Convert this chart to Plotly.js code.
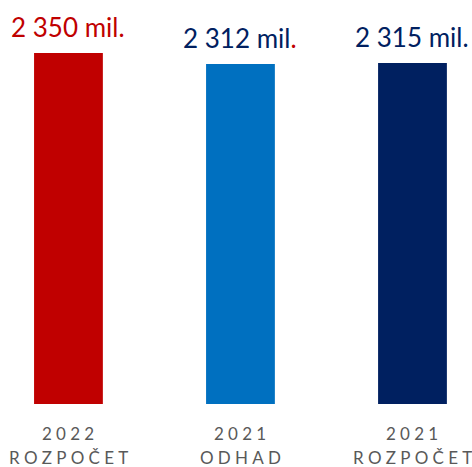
<!DOCTYPE html>
<html>
<head>
<meta charset="utf-8">
<script src="https://cdn.plot.ly/plotly-3.0.1.min.js"></script>
<style>html,body{margin:0;padding:0;background:#fff;}</style>
</head>
<body>
<div id="chart" style="width:472px;height:467px;"></div>
<script>
const categories = ["2022 ROZPOČET", "2021 ODHAD", "2021 ROZPOČET"];
const tickLine1 = ["2022", "2021", "2021"];
const tickLine2 = ["ROZPOČET", "ODHAD", "ROZPOČET"];
const values = [2350, 2312, 2315];
const valueLabels = ["2 350 mil.", "2 312 mil", "2 315 mil."];
const barColors = ["#C00000", "#0070C0", "#002060"];
const labelColors = ["#C00000", "#002060", "#002060"];
const dotColors = ["#C00000", "#C00000", "#002060"];

const spaced = s => s.split("").join("\u2005");

const annotations = [];
categories.forEach((c, i) => {
  let txt = valueLabels[i];
  if (i === 1) txt = valueLabels[i] + '<span style="color:' + dotColors[i] + '">.</span>';
  annotations.push({
    x: c, y: values[i], xref: "x", yref: "y",
    text: txt, showarrow: false, yanchor: "bottom", yshift: 8,
    font: {family: "Lato, sans-serif", size: 26, color: labelColors[i]}
  });
  annotations.push({
    x: c, y: 0, xref: "x", yref: "paper",
    text: spaced(tickLine1[i]), showarrow: false, yanchor: "middle", yshift: -29,
    font: {family: "Lato, sans-serif", size: 17, color: "#595959"}
  });
  annotations.push({
    x: c, y: 0, xref: "x", yref: "paper",
    text: spaced(tickLine2[i]), showarrow: false, yanchor: "middle", yshift: -53,
    font: {family: "Lato, sans-serif", size: 17, color: "#595959"}
  });
});

Plotly.newPlot("chart", [{
  type: "bar", x: categories, y: values, width: 0.4,
  marker: {color: barColors}, hoverinfo: "none"
}], {
  width: 472, height: 467,
  margin: {l: 0, r: 0, t: 0, b: 63, pad: 0},
  paper_bgcolor: "#fff", plot_bgcolor: "#fff",
  showlegend: false,
  xaxis: {type: "category", range: [-0.398, 2.346], showticklabels: false, showgrid: false, zeroline: false, showline: false, ticks: ""},
  yaxis: {range: [1137, 2533], visible: false, showgrid: false, zeroline: false},
  annotations: annotations
}, {displayModeBar: false, staticPlot: true});
</script>
</body>
</html>
